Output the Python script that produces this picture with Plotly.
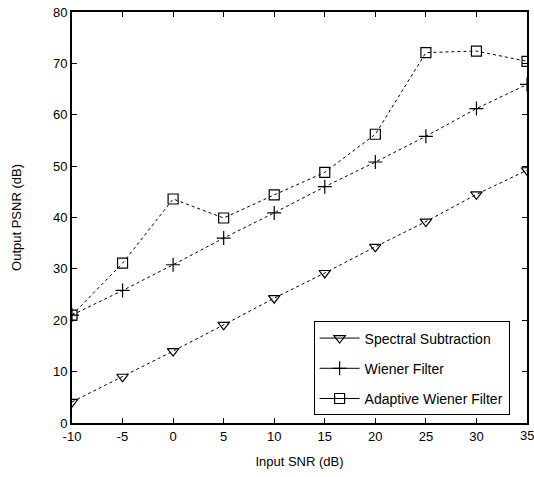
import plotly.graph_objects as go

snr = [-10, -5, 0, 5, 10, 15, 20, 25, 30, 35]
spectral = [4.1, 9.0, 14.0, 19.1, 24.3, 29.2, 34.3, 39.2, 44.5, 49.2]
wiener = [21.0, 25.8, 30.8, 36.0, 40.9, 46.0, 50.8, 55.8, 61.2, 65.9]
adaptive = [21.0, 31.1, 43.6, 39.9, 44.4, 48.8, 56.2, 72.1, 72.4, 70.4]

xticks = [-10, -5, 0, 5, 10, 15, 20, 25, 30, 35]
yticks = [0, 10, 20, 30, 40, 50, 60, 70, 80]

FONT = "Liberation Sans, Arial, sans-serif"

fig = go.Figure()
series = [
    ("Spectral Subtraction", spectral, "triangle-down-open", 10),
    ("Wiener Filter", wiener, "cross-thin-open", 10),
    ("Adaptive Wiener Filter", adaptive, "square-open", 10),
]
for i, (name, ys, sym, sz) in enumerate(series):
    marker = dict(symbol=sym, size=sz, color="black",
                  line=dict(color="black", width=1.2))
    fig.add_trace(go.Scatter(
        x=snr, y=ys, name=name, mode="lines+markers", showlegend=False,
        line=dict(color="black", width=1, dash="dot"), marker=marker,
    ))
    # legend sample (solid line, as in the reference legend)
    fig.add_trace(go.Scatter(
        x=[None], y=[None], name=name, mode="lines+markers",
        legendgroup="g%d" % i,
        line=dict(color="black", width=1), marker=marker,
    ))

axis_common = dict(
    showgrid=False, zeroline=False, showline=True, linecolor="black",
    linewidth=2, mirror="ticks", ticks="inside", ticklen=5, tickwidth=1,
    tickcolor="black", tickfont=dict(family=FONT, size=13, color="black"),
)

# x tick labels drawn as axis labels except the last one which sits on the page edge
fig.update_layout(
    width=534, height=477,
    margin=dict(l=72, r=5, t=12, b=54),
    paper_bgcolor="white", plot_bgcolor="white",
    font=dict(family=FONT, color="black", size=13),
    xaxis=dict(range=[-10, 35], tickvals=xticks,
               ticktext=[str(v) for v in xticks],
               title=dict(text="Input SNR (dB)", font=dict(size=13), standoff=14),
               **axis_common),
    yaxis=dict(range=[0, 80], tickvals=yticks,
               ticktext=[str(v) for v in yticks],
               title=dict(text="Output PSNR (dB)", font=dict(size=13), standoff=28),
               **axis_common),
    legend=dict(x=0.531, y=0.247, xanchor="left", yanchor="top",
                bgcolor="white", bordercolor="black", borderwidth=1,
                font=dict(family=FONT, size=14, color="black"),
                itemwidth=40, tracegroupgap=9),
    showlegend=True,
)

fig.add_annotation(x=xticks[-1], y=0, xref="x", yref="y", text=str(xticks[-1]),
                   showarrow=False, yanchor="top", xanchor="center", yshift=-3,
                   font=dict(family=FONT, size=13, color="black"))

fig.write_html("out.html")
